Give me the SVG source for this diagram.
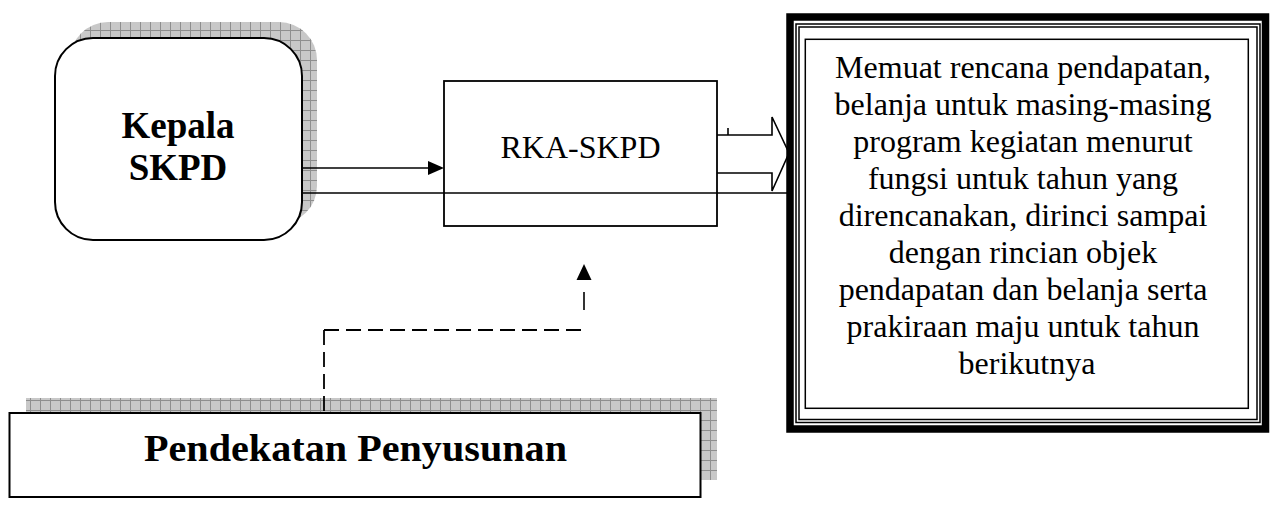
<svg xmlns="http://www.w3.org/2000/svg" width="1273" height="508" viewBox="0 0 1273 508">
<style>
  .ln { fill: none; stroke: #000; stroke-width: 1.6; }
  .box { fill: #fff; stroke: #000; stroke-width: 2; }
  .dash { fill: none; stroke: #000; stroke-width: 1.8; stroke-dasharray: 15 7; }
  .t { font-family: "Liberation Serif", "Times New Roman", serif; fill: #000; text-anchor: middle; }
  .shadow { fill: url(#grid); }
</style>
<defs>
  <pattern id="grid" patternUnits="userSpaceOnUse" width="10" height="10">
    <rect width="10" height="10" fill="#c8c8c8"/>
    <path d="M0,0.5 H10 M0.5,0 V10" stroke="#8e8e8e" stroke-width="1" fill="none"/>
  </pattern>
</defs>

<g id="node-kepala">
  <rect class="shadow" x="70" y="22" width="247" height="202" rx="38" ry="38"/>
  <rect class="box" x="55" y="38" width="247" height="202" rx="38" ry="38"/>
  <text class="t" x="178" y="138" font-size="37" font-weight="bold">Kepala</text>
  <text class="t" x="178" y="180" font-size="37" font-weight="bold">SKPD</text>
</g>

<g id="node-rka">
  <rect x="444" y="81" width="273" height="145" fill="#fff" stroke="#000" stroke-width="1.8"/>
  <text class="t" x="580.5" y="158" font-size="32">RKA-SKPD</text>
</g>

<g id="node-keterangan">
  <rect x="790" y="17" width="475.5" height="412" fill="#fff" stroke="#000" stroke-width="7.5"/>
  <rect x="796" y="24" width="464" height="398.5" fill="none" stroke="#000" stroke-width="1.5"/>
  <rect x="799" y="27" width="458" height="392.5" fill="none" stroke="#000" stroke-width="1.5"/>
  <rect x="805.3" y="39.3" width="443" height="369" fill="none" stroke="#000" stroke-width="1.5"/>
  <text class="t" font-size="32">
    <tspan x="1027" y="78">Memuat rencana pendapatan,</tspan>
    <tspan x="1027" y="115">belanja untuk masing-masing</tspan>
    <tspan x="1027" y="152">program kegiatan menurut</tspan>
    <tspan x="1027" y="189">fungsi untuk tahun yang</tspan>
    <tspan x="1027" y="226">direncanakan, dirinci sampai</tspan>
    <tspan x="1027" y="263">dengan rincian objek</tspan>
    <tspan x="1027" y="300">pendapatan dan belanja serta</tspan>
    <tspan x="1027" y="337">prakiraan maju untuk tahun</tspan>
    <tspan x="1027" y="374">berikutnya</tspan>
  </text>
</g>

<g id="node-pendekatan">
  <rect class="shadow" x="26" y="398" width="691" height="82"/>
  <rect class="box" x="9.5" y="413" width="691" height="84"/>
  <text class="t" x="355.5" y="461" font-size="38" font-weight="bold" textLength="423" lengthAdjust="spacingAndGlyphs">Pendekatan Penyusunan</text>
</g>

<g id="connectors">
  <path class="ln" d="M302,168 H430"/>
  <polygon points="444,168 428,161 428,175" fill="#000"/>
  <path class="ln" d="M302,193 H787"/>
  <path class="ln" d="M717,135 H772 V117 L789,153 L772,191 V173 H717"/>
  <path class="ln" d="M728,128 V135"/>
  <path class="dash" d="M324,330 V413"/>
  <path class="dash" d="M324,330 H582"/>
  <path class="ln" d="M584,310 V292" stroke-width="1.8"/>
  <polygon points="584,264 576.5,280 591.5,280" fill="#000"/>
</g>
</svg>
